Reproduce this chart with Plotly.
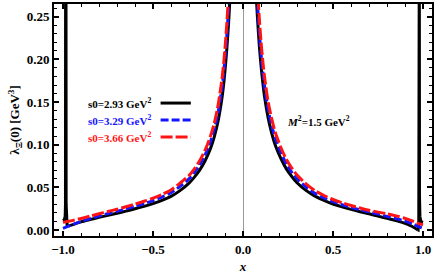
import plotly.graph_objects as go

# ---------------- data ----------------
# shared x grids for the smooth branches
x_left = [-1.0, -0.97, -0.95, -0.9, -0.85, -0.8, -0.75, -0.7, -0.65, -0.6, -0.55, -0.5,
          -0.45, -0.4, -0.35, -0.3, -0.27, -0.24, -0.21, -0.18, -0.16, -0.14, -0.12,
          -0.11, -0.1, -0.09, -0.08, -0.075, -0.07, -0.065]
x_right = [0.065, 0.07, 0.075, 0.08, 0.09, 0.1, 0.11, 0.12, 0.14, 0.16, 0.18, 0.21, 0.24,
           0.27, 0.3, 0.35, 0.4, 0.45, 0.5, 0.55, 0.6, 0.65, 0.7, 0.75, 0.8, 0.85, 0.9,
           0.93, 0.95, 0.97, 1.0]

# black, s0 = 2.93 GeV^2 (pole structures near x = -0.985 and x = 0.978)
black_pole_left_x = [-1.0, -0.993, -0.988, -0.9862, -0.9855, -0.9835, -0.9825, -0.980, -0.977, -0.97]
black_pole_left_y = [0.011, 0.012, 0.016, 0.03, 0.35, 0.35, 0.03, 0.009, 0.005, 0.0045]
black_left = [None, 0.0045, 0.006, 0.0095, 0.0122, 0.0148, 0.0173, 0.0197, 0.0222, 0.0249,
              0.0278, 0.0310, 0.0348, 0.0395, 0.0462, 0.0550, 0.0620, 0.0705, 0.0815,
              0.0960, 0.1090, 0.1260, 0.1500, 0.1660, 0.1870, 0.2120, 0.2430, 0.2620,
              0.2830, 0.3070]
black_right = [0.315, 0.292, 0.270, 0.250, 0.218, 0.193, 0.173, 0.156, 0.131, 0.113, 0.099,
               0.084, 0.072, 0.063, 0.0555, 0.0465, 0.0397, 0.0347, 0.0305, 0.0272, 0.0242,
               0.0215, 0.019, 0.0163, 0.0137, 0.011, 0.0078, 0.0052, 0.0030, 0.0003, None]
black_pole_right_x = [0.97, 0.973, 0.9765, 0.9775, 0.9795, 0.9805, 0.983, 0.987, 0.993, 1.0]
black_pole_right_y = [0.0003, 0.0, 0.01, 0.35, 0.35, 0.04, 0.016, 0.011, 0.0095, 0.009]

# blue, s0 = 3.29 GeV^2
blue_left = [0.002, 0.0045, 0.0062, 0.0100, 0.0135, 0.0165, 0.0193, 0.0220, 0.0248, 0.0278,
             0.0310, 0.0345, 0.0387, 0.0438, 0.0512, 0.0600, 0.0675, 0.0768, 0.0885, 0.1040,
             0.1180, 0.1360, 0.1620, 0.1790, 0.2010, 0.2280, 0.2610, 0.2810, 0.3040, 0.33]
blue_right = [0.34, 0.312, 0.289, 0.268, 0.234, 0.207, 0.186, 0.168, 0.141, 0.122, 0.107,
              0.091, 0.078, 0.068, 0.060, 0.0505, 0.0430, 0.0376, 0.0332, 0.0297, 0.0266,
              0.0238, 0.0212, 0.0186, 0.0160, 0.0134, 0.0104, 0.0082, 0.0065, 0.0045, 0.002]

# red, s0 = 3.66 GeV^2
red_left = [0.009, 0.0102, 0.011, 0.0135, 0.0163, 0.0190, 0.0217, 0.0244, 0.0273, 0.0304,
            0.0337, 0.0373, 0.0417, 0.0470, 0.0550, 0.0640, 0.0718, 0.0815, 0.0940, 0.1105,
            0.1250, 0.1445, 0.1720, 0.1900, 0.2130, 0.2420, 0.2770, 0.2980, 0.3220, 0.35]
red_right = [0.36, 0.333, 0.308, 0.286, 0.250, 0.221, 0.198, 0.179, 0.150, 0.130, 0.114,
             0.097, 0.083, 0.073, 0.0645, 0.0542, 0.0462, 0.0405, 0.0358, 0.0320, 0.0288,
             0.0259, 0.0232, 0.0210, 0.0190, 0.0166, 0.0137, 0.0115, 0.0100, 0.0082, 0.006]

legend_labels = ["s0=2.93 GeV<sup>2</sup>", "s0=3.29 GeV<sup>2</sup>", "s0=3.66 GeV<sup>2</sup>"]
colors = ["black", "#1414ff", "#ff1414"]
dashes = ["solid", "8px,3px", "12px,3px"]

x_ticks = [-1.0, -0.5, 0.0, 0.5, 1.0]
y_ticks = [0.00, 0.05, 0.10, 0.15, 0.20, 0.25]

FONT = "Liberation Serif"

fig = go.Figure()

# black: pole pieces (linear) and smooth branches (spline)
for px_, py_ in [(black_pole_left_x, black_pole_left_y), (black_pole_right_x, black_pole_right_y)]:
    fig.add_trace(go.Scatter(x=px_, y=py_, mode="lines", name=legend_labels[0],
                             line=dict(color=colors[0], width=3), showlegend=False))
fig.add_trace(go.Scatter(x=x_left[1:], y=black_left[1:], mode="lines", name=legend_labels[0],
                         line=dict(color=colors[0], width=3, shape="spline", smoothing=0.8),
                         showlegend=False))
fig.add_trace(go.Scatter(x=x_right[:-1], y=black_right[:-1], mode="lines", name=legend_labels[0],
                         line=dict(color=colors[0], width=3, shape="spline", smoothing=0.8),
                         showlegend=False))

for yl, yr, c, d, name in [(blue_left, blue_right, colors[1], dashes[1], legend_labels[1]),
                           (red_left, red_right, colors[2], dashes[2], legend_labels[2])]:
    for xs, ys in [(x_left, yl), (x_right, yr)]:
        fig.add_trace(go.Scatter(x=xs, y=ys, mode="lines", name=name,
                                 line=dict(color=c, width=3, dash=d, shape="spline", smoothing=0.8),
                                 showlegend=False))

# manual legend: text followed by line sample (paper coordinates)
leg_y = [0.573, 0.500, 0.427]
for lab, c, d, yy in zip(legend_labels, colors, dashes, leg_y):
    fig.add_annotation(x=0.262, y=yy, xref="paper", yref="paper", text=lab,
                       showarrow=False, xanchor="right", yanchor="middle",
                       font=dict(family=FONT, size=11, color=c, weight="bold"))
    fig.add_shape(type="line", xref="paper", yref="paper", x0=0.282, x1=0.362,
                  y0=yy, y1=yy, line=dict(color=c, width=3, dash=d))

fig.add_annotation(x=0.789, y=0.496, xref="paper", yref="paper",
                   text="<i>M</i><sup>2</sup>=1.5 GeV<sup>2</sup>", showarrow=False,
                   font=dict(family=FONT, size=11, color="black", weight="bold"))

axis_common = dict(showline=True, linecolor="black", linewidth=2, mirror="allticks",
                   ticks="inside", ticklen=5, tickwidth=1.5, tickcolor="black",
                   showgrid=False,
                   tickfont=dict(family=FONT, size=13, color="black", weight="bold"))

fig.update_xaxes(range=[-1.05, 1.05], tickvals=x_ticks, tickformat=".1f",
                 zeroline=True, zerolinecolor="#999999", zerolinewidth=1,
                 minor=dict(dtick=0.1, ticks="inside", ticklen=3, tickwidth=1, tickcolor="black"),
                 title=dict(text="<i>x</i>", font=dict(family=FONT, size=13, color="black", weight="bold"),
                            standoff=6),
                 **axis_common)
fig.update_yaxes(range=[-0.007, 0.265], tickvals=y_ticks, tickformat=".2f",
                 zeroline=False,
                 minor=dict(dtick=0.01, ticks="inside", ticklen=3, tickwidth=1, tickcolor="black"),
                 title=dict(text="λ<sub>Ξ</sub>(0) [GeV<sup>3</sup>]",
                            font=dict(family=FONT, size=13, color="black", weight="bold"),
                            standoff=4),
                 **axis_common)

fig.update_layout(width=436, height=276, margin=dict(l=54, r=3, t=2, b=40),
                  plot_bgcolor="white", paper_bgcolor="white")

fig.write_html("out.html", config={"displayModeBar": False},
               post_script="document.body.style.margin='0';")
